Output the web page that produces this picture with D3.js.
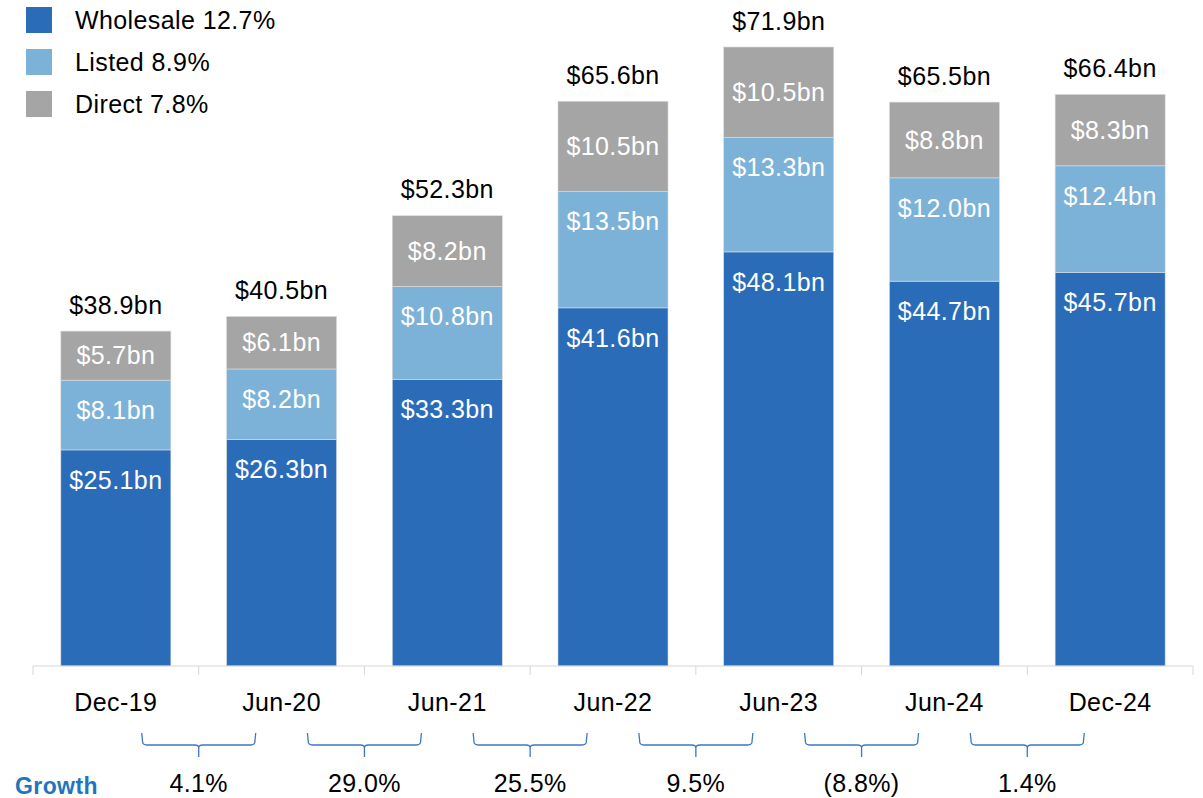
<!DOCTYPE html>
<html>
<head>
<meta charset="utf-8">
<script src="https://cdn.jsdelivr.net/npm/d3@7"></script>
<style>
  body { margin: 0; background: #fff; }
  text { font-family: "Liberation Sans", Arial, sans-serif; letter-spacing: 0.4px; }
</style>
</head>
<body>
<div id="chart"></div>
<script>
const categories = ["Dec-19", "Jun-20", "Jun-21", "Jun-22", "Jun-23", "Jun-24", "Dec-24"];
const wholesale = [25.1, 26.3, 33.3, 41.6, 48.1, 44.7, 45.7];
const listed = [8.1, 8.2, 10.8, 13.5, 13.3, 12.0, 12.4];
const direct = [5.7, 6.1, 8.2, 10.5, 10.5, 8.8, 8.3];
const totals = [38.9, 40.5, 52.3, 65.6, 71.9, 65.5, 66.4];
const growth = ["4.1%", "29.0%", "25.5%", "9.5%", "(8.8%)", "1.4%"];
const series_names = ["Wholesale 12.7%", "Listed 8.9%", "Direct 7.8%"];
const colors = ["#2b6cb9", "#7db2d8", "#a5a5a5"];

const svg_width = 1203, svg_height = 798;
const font_size = 25;
const svg = d3.select("#chart").append("svg")
    .attr("width", svg_width)
    .attr("height", svg_height);

let x = d3.scaleBand()
    .domain(categories)
    .range([33, 1193])
    .paddingInner(0.336)
    .paddingOuter(0.168);
let y = d3.scaleLinear()
    .domain([0, 71.9])
    .range([666, 47]);

// stack the three series
const rows = categories.map((c, i) => ({cat: c, w: wholesale[i], l: listed[i], d: direct[i]}));
const stacked = d3.stack().keys(["w", "l", "d"])(rows);

stacked.forEach((layer, k) => {
    svg.append("g").selectAll("rect")
        .data(layer)
        .join("rect")
        .attr("x", d => x(d.data.cat))
        .attr("width", x.bandwidth())
        .attr("y", d => y(d[1]))
        .attr("height", d => y(d[0]) - y(d[1]))
        .attr("fill", colors[k])
        .attr("stroke", "#dcdcdc")
        .attr("stroke-width", 0.6);

    svg.append("g").selectAll("text")
        .data(layer)
        .join("text")
        .attr("x", d => x(d.data.cat) + x.bandwidth() / 2)
        .attr("y", d => k == 2 ? (y(d[0]) + y(d[1])) / 2 : y(d[1]) + 30)
        .attr("dy", "0.35em")
        .attr("text-anchor", "middle")
        .attr("fill", "#fff")
        .attr("font-size", font_size)
        .text(d => "$" + (d[1] - d[0]).toFixed(1) + "bn");
});

// totals
svg.append("g").selectAll("text")
    .data(totals)
    .join("text")
    .attr("x", (d, i) => x(categories[i]) + x.bandwidth() / 2)
    .attr("y", (d, i) => y(wholesale[i] + listed[i] + direct[i]) - 26)
    .attr("dy", "0.35em")
    .attr("text-anchor", "middle")
    .attr("fill", "#000")
    .attr("font-size", font_size)
    .text(d => "$" + d.toFixed(1) + "bn");

// x axis with ticks on band boundaries
let axis = svg.append("g").attr("transform", "translate(0,666)");
axis.append("line")
    .attr("x1", 33).attr("x2", 1193)
    .attr("stroke", "#d6d6d6");
const bounds = categories.map(c => x(c) - x.step() * x.paddingInner() / 2)
    .concat([1193]);
axis.selectAll(".tick")
    .data(bounds)
    .join("line")
    .attr("class", "tick")
    .attr("x1", d => d).attr("x2", d => d)
    .attr("y1", 0).attr("y2", 9)
    .attr("stroke", "#d6d6d6");
axis.selectAll(".lbl")
    .data(categories)
    .join("text")
    .attr("class", "lbl")
    .attr("x", d => x(d) + x.bandwidth() / 2)
    .attr("y", 36)
    .attr("dy", "0.35em")
    .attr("text-anchor", "middle")
    .attr("font-size", font_size)
    .text(d => d);

// growth braces
const half = 57;
const brace = cx => {
    const top = 733, mid = 745, tip = 757;
    return `M${cx - half},${top} L${cx - half + 1},${mid - 2} Q${cx - half + 2},${mid} ${cx - half + 5},${mid}
            L${cx - 4},${mid} Q${cx},${mid} ${cx},${mid + 3} L${cx},${tip}
            M${cx},${mid + 3} Q${cx},${mid} ${cx + 4},${mid}
            L${cx + half - 5},${mid} Q${cx + half - 2},${mid} ${cx + half - 1},${mid - 2} L${cx + half},${top}`;
};
const centers = growth.map((g, i) => (x(categories[i]) + x(categories[i + 1]) + x.bandwidth()) / 2);
svg.append("g").selectAll("path")
    .data(centers)
    .join("path")
    .attr("d", brace)
    .attr("fill", "none")
    .attr("stroke", "#3b78c4")
    .attr("stroke-width", 1.3);
svg.append("g").selectAll("text")
    .data(growth)
    .join("text")
    .attr("x", (d, i) => centers[i])
    .attr("y", 783)
    .attr("dy", "0.35em")
    .attr("text-anchor", "middle")
    .attr("font-size", font_size)
    .text(d => d);
svg.append("text")
    .attr("x", 15)
    .attr("y", 786)
    .attr("dy", "0.35em")
    .attr("font-size", 23)
    .attr("font-weight", "bold")
    .attr("fill", "#1f76bf")
    .text("Growth");

// legend
let legend = svg.append("g").selectAll("g")
    .data(series_names)
    .join("g")
    .attr("transform", (d, i) => "translate(26," + (7 + i * 42) + ")");
legend.append("rect")
    .attr("width", 26).attr("height", 26)
    .attr("fill", (d, i) => colors[i]);
legend.append("text")
    .attr("x", 49).attr("y", 13)
    .attr("dy", "0.35em")
    .attr("font-size", font_size)
    .text(d => d);
</script>
</body>
</html>
